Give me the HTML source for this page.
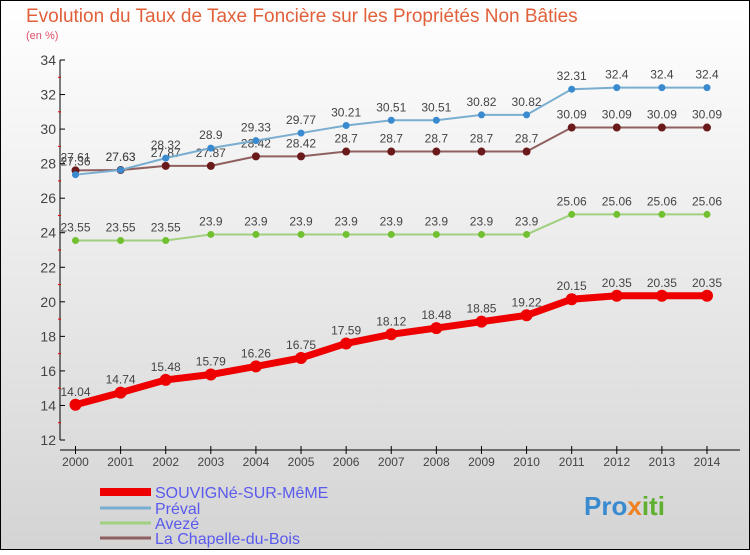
<!DOCTYPE html>
<html><head><meta charset="utf-8"><style>
body{margin:0;width:750px;height:550px;overflow:hidden;font-family:"Liberation Sans","DejaVu Sans",sans-serif}
</style></head><body>
<svg id="c" width="750" height="550" xmlns="http://www.w3.org/2000/svg">
<defs><linearGradient id="bg" x1="0" y1="0" x2="0" y2="1"><stop offset="0" stop-color="#ffffff"/><stop offset="1" stop-color="#d4d4d4"/></linearGradient></defs>
<rect x="0.5" y="0.5" width="749" height="549" fill="url(#bg)" stroke="#000"/>
<text x="26" y="22" font-size="19" fill="#e0603a">Evolution du Taux de Taxe Foncière sur les Propriétés Non Bâties</text>
<text x="26" y="39" font-size="11" fill="#e0506a">(en %)</text>
<g id="axes"></g><g id="series"></g>
<g>
<line x1="100" y1="492" x2="151" y2="492" stroke="#e00" stroke-width="8"/>
<text x="155" y="498" font-size="16" fill="#5a5aee">SOUVIGNé-SUR-MêME</text>
<line x1="100" y1="508" x2="151" y2="508" stroke="#7aaed0" stroke-width="3"/>
<text x="155" y="514" font-size="16" fill="#5a5aee">Préval</text>
<line x1="100" y1="523" x2="151" y2="523" stroke="#a0d080" stroke-width="3"/>
<text x="155" y="529" font-size="16" fill="#5a5aee">Avezé</text>
<line x1="100" y1="538" x2="151" y2="538" stroke="#906060" stroke-width="3"/>
<text x="155" y="544" font-size="16" fill="#5a5aee">La Chapelle-du-Bois</text>
</g>
<text x="584" y="515" font-size="26" font-weight="bold" fill="#3a8ad0">Pro<tspan fill="#f08020">x</tspan><tspan fill="#60b030">iti</tspan></text>
</svg>
<script>
const years=[2000,2001,2002,2003,2004,2005,2006,2007,2008,2009,2010,2011,2012,2013,2014];
const souvigne=[14.04,14.74,15.48,15.79,16.26,16.75,17.59,18.12,18.48,18.85,19.22,20.15,20.35,20.35,20.35];
const preval=[27.36,27.63,28.32,28.9,29.33,29.77,30.21,30.51,30.51,30.82,30.82,32.31,32.4,32.4,32.4];
const aveze=[23.55,23.55,23.55,23.9,23.9,23.9,23.9,23.9,23.9,23.9,23.9,25.06,25.06,25.06,25.06];
const chapelle=[27.61,27.63,27.87,27.87,28.42,28.42,28.7,28.7,28.7,28.7,28.7,30.09,30.09,30.09,30.09];
const yTicks=[12,14,16,18,20,22,24,26,28,30,32,34];
const NS="http://www.w3.org/2000/svg";
const X=i=>75.5+i*(707-75.5)/(years.length-1);
const Y=v=>60+(34-v)*(440-60)/(34-12);
function mk(t,a,p){const e=document.createElementNS(NS,t);for(const k in a)e.setAttribute(k,a[k]);p.appendChild(e);return e;}
const ax=document.getElementById('axes');
let e=mk('line',{x1:60,y1:60,x2:60,y2:440,stroke:'#000'},ax);


e=mk('line',{x1:60,y1:450,x2:740,y2:450,stroke:'#000'},ax);


yTicks.forEach((v,i)=>{
  mk('line',{x1:60,y1:Y(v),x2:65,y2:Y(v),stroke:'#000'},ax);
  if(i<yTicks.length-1)mk('line',{x1:58,y1:Y(v+1),x2:61,y2:Y(v+1),stroke:'#e00'},ax);
  const t=mk('text',{x:56,y:Y(v)+5,'font-size':14,'text-anchor':'end',fill:'#444'},ax);
  t.textContent=v;
  
  
});
years.forEach((y,i)=>{
  mk('line',{x1:X(i),y1:446,x2:X(i),y2:454,stroke:'#000'},ax);
  const t=mk('text',{x:X(i),y:466,'font-size':12,'text-anchor':'middle',fill:'#444'},ax);
  t.textContent=y;
  
  
});
const sg=document.getElementById('series');
function draw(data,name,line,dot,w,r){
  const g=mk('g',{},sg);
  
  
  mk('polyline',{points:data.map((v,i)=>X(i)+','+Y(v)).join(' '),fill:'none',stroke:line,'stroke-width':w},g);
  data.forEach((v,i)=>{
    const c=mk('circle',{cx:X(i),cy:Y(v),r:r,fill:dot},g);
    
    
    const t=mk('text',{x:X(i),y:Y(v)-9,'font-size':12,'text-anchor':'middle',fill:'#444'},g);
    t.textContent=v;
    
    
  });
}
draw(aveze,'aveze','#a0d080','#70c030',2,3.5);
draw(chapelle,'chapelle','#906060','#6a1a1a',2,4);
draw(preval,'preval','#7aaed0','#3a8ad0',2,3.5);
draw(souvigne,'souvigne','#e00','#e00',7,6);
</script>
</body></html>
